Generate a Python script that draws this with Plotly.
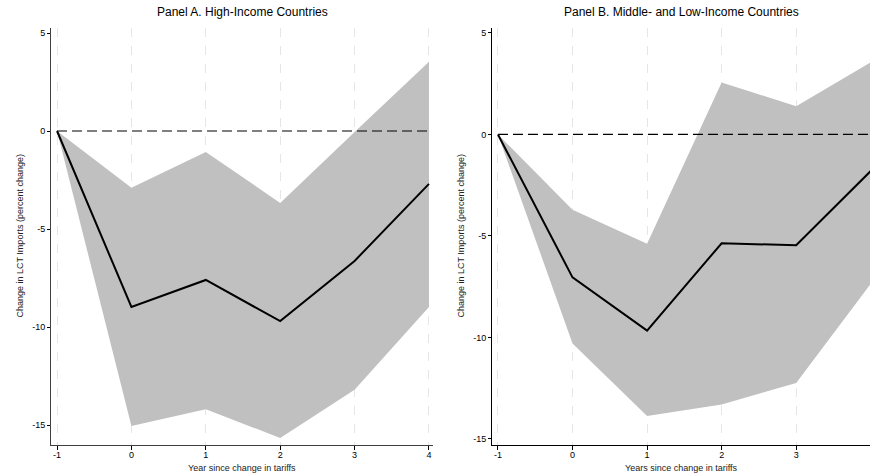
import plotly.graph_objects as go

# ---- data ----
years = [-1, 0, 1, 2, 3, 4]

a_est = [0, -8.98, -7.6, -9.7, -6.63, -2.7]
a_upper = [0, -2.9, -1.07, -3.67, -0.05, 3.53]
a_lower = [0, -15.05, -14.2, -15.66, -13.2, -8.98]

b_est = [0, -7.04, -9.66, -5.36, -5.46, -1.8]
b_upper = [0, -3.71, -5.38, 2.56, 1.39, 3.55]
b_lower = [0, -10.3, -13.87, -13.3, -12.25, -7.35]

y_ticks = [5, 0, -5, -10, -15]
titles = ["Panel A. High-Income Countries", "Panel B. Middle- and Low-Income Countries"]
x_titles = ["Year since change in tariffs", "Years since change in tariffs"]
y_title = "Change in LCT Imports (percent change)"

FONT = "Liberation Sans, Arial, sans-serif"
BAND = "#c0c0c0"

fig = go.Figure()

panels = [
    (a_est, a_upper, a_lower, "x", "y"),
    (b_est, b_upper, b_lower, "x2", "y2"),
]
for est, up, lo, xa, ya in panels:
    fig.add_trace(go.Scatter(x=years, y=lo, mode="lines", line=dict(width=0, color=BAND),
                             xaxis=xa, yaxis=ya, showlegend=False, hoverinfo="skip"))
    fig.add_trace(go.Scatter(x=years, y=up, mode="lines", line=dict(width=0, color=BAND),
                             fill="tonexty", fillcolor=BAND,
                             xaxis=xa, yaxis=ya, showlegend=False, hoverinfo="skip"))
    fig.add_trace(go.Scatter(x=[years[0], years[-1]], y=[0, 0], mode="lines",
                             line=dict(width=1.2, color="black", dash="10px,5px"),
                             xaxis=xa, yaxis=ya, showlegend=False, hoverinfo="skip"))
    fig.add_trace(go.Scatter(x=years, y=est, mode="lines", line=dict(width=2, color="black"),
                             xaxis=xa, yaxis=ya, showlegend=False))

xcommon = dict(
    tickmode="array", tickvals=years, ticktext=[str(v) for v in years],
    showgrid=True, gridcolor="#e6e6e6", griddash="dash", gridwidth=1,
    zeroline=False, showline=True, linewidth=1,
    ticks="outside", ticklen=4, tickwidth=1, tickcolor="black",
    ticklabelstandoff=-3,
    tickfont=dict(size=9, color="black", family=FONT),
)
ycommon = dict(
    tickmode="array", tickvals=y_ticks, ticktext=[str(v) for v in y_ticks],
    showgrid=False, zeroline=False, showline=True, linewidth=1,
    ticks="outside", ticklen=3, tickwidth=1, tickcolor="black",
    tickfont=dict(size=9, color="black", family=FONT),
)

fig.update_layout(
    width=870, height=474,
    margin=dict(l=0, r=0, t=28, b=29),
    paper_bgcolor="white", plot_bgcolor="white",
    font=dict(family=FONT, color="black"),
    xaxis=dict(domain=[51 / 870, 433 / 870], range=[-1.081, 4.054], anchor="y",
               linecolor="#404040", **xcommon),
    yaxis=dict(domain=[0, 1], range=[-16.02, 5.255], anchor="x",
               linecolor="#404040", **ycommon),
    xaxis2=dict(domain=[492 / 870, 1], range=[-1.08, 3.99], anchor="y2",
                linecolor="black", **xcommon),
    yaxis2=dict(domain=[0, 1], range=[-15.30, 5.246], anchor="x2",
                linecolor="black", **ycommon),
)

annotations = []
for i, (xa, ya) in enumerate([("x", "y"), ("x2", "y2")]):
    annotations.append(dict(text=titles[i], xref=f"{xa} domain", yref="paper",
                            x=0.5, y=1, yshift=7, yanchor="bottom", xanchor="center",
                            showarrow=False, font=dict(size=12, family=FONT, color="black")))
    annotations.append(dict(text=x_titles[i], xref=f"{xa} domain", yref="paper",
                            x=0.5, y=0, yshift=-16, yanchor="top", xanchor="center",
                            showarrow=False, font=dict(size=9, family=FONT, color="#222")))
    annotations.append(dict(text=y_title, xref=f"{xa} domain", yref=f"{ya} domain",
                            x=0, xshift=-32, y=0.5, xanchor="center", yanchor="middle",
                            textangle=-90, showarrow=False,
                            font=dict(size=9, family=FONT, color="#222")))
fig.update_layout(annotations=annotations)

fig.write_html("out.html")
